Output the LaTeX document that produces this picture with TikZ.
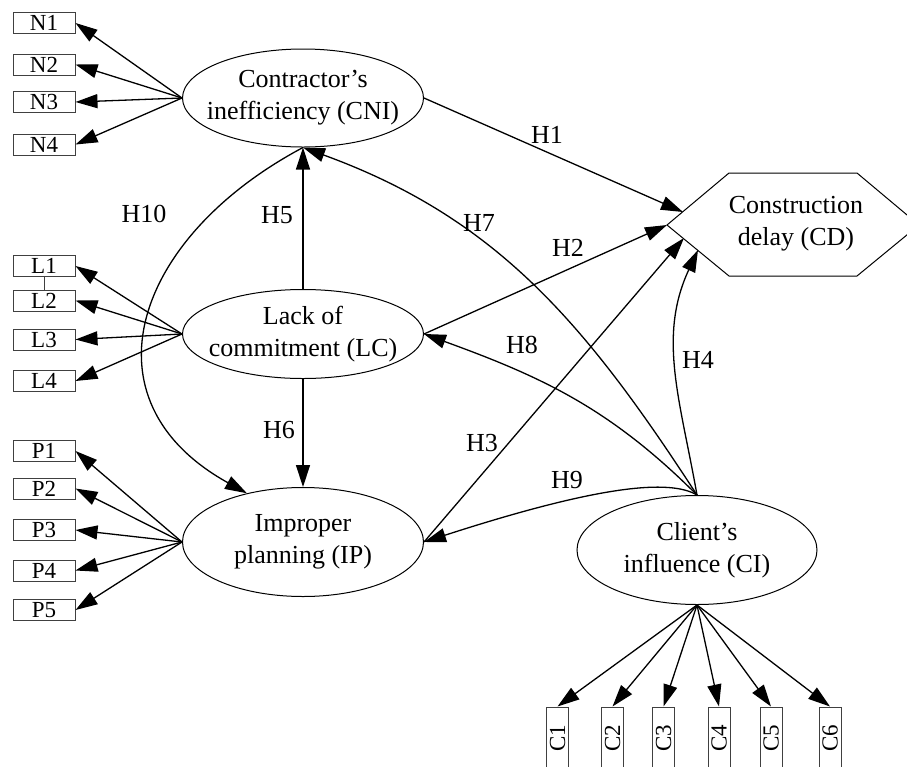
\documentclass[tikz,border=0pt]{standalone}
\usepackage{fontspec}
\setmainfont{Liberation Serif}
\usepackage{tikz}
\usetikzlibrary{arrows.meta,positioning,shapes.geometric}

\begin{document}
\begin{tikzpicture}[
  x=0.5pt, y=0.5pt,
  >={Triangle[length=11pt,width=7pt]},
  latent/.style={draw, ellipse, line width=0.5pt, align=center, inner xsep=-7pt, inner ysep=-3pt, font=\fontsize{13}{16}\selectfont, minimum width=120.5pt},
  ind/.style={draw=black!75, line width=0.5pt, minimum width=31pt, minimum height=10.5pt, inner sep=0pt, font=\fontsize{11.5}{13}\selectfont},
  hyp/.style={inner sep=1pt, font=\fontsize{13}{15}\selectfont},
  arrow/.style={->, line width=0.65pt}
]
\useasboundingbox (0,0) rectangle (907,-767);

% latent constructs
\node[latent, minimum height=49pt] (CNI) at (303,-98) {Contractor's\\inefficiency (CNI)};
\node[latent, minimum height=44.5pt] (LC) at (303,-334) {Lack of\\commitment (LC)};
\node[latent, minimum height=54.5pt] (IP) at (303,-542) {Improper\\planning (IP)};
\node[latent, minimum height=54.5pt, minimum width=120pt] (CI) at (697,-550) {Client's\\influence (CI)};

% construction delay
\coordinate (cdW) at (667,-225);
\coordinate (cdNW) at (729,-173);
\coordinate (cdNE) at (857,-173);
\coordinate (cdE) at (919,-225);
\coordinate (cdSE) at (857,-276);
\coordinate (cdSW) at (729,-276);
\draw[line width=0.5pt] (cdW) -- (cdNW) -- (cdNE) -- (cdE) -- (cdSE) -- (cdSW) -- cycle;
\node[align=center, font=\fontsize{13}{16}\selectfont] (CD) at (796,-224) {Construction\\delay (CD)};
\coordinate (cdH1) at (683,-212);
\coordinate (cdH3) at (684,-238);
\coordinate (cdH4) at (698,-250);

% indicators
\node[ind] (N1) at (44,-23) {N1};
\node[ind] (N2) at (44,-64.5) {N2};
\node[ind] (N3) at (44,-102) {N3};
\node[ind] (N4) at (44,-144.5) {N4};

\node[ind] (L1) at (44,-266) {L1};
\node[ind] (L2) at (44,-300.5) {L2};
\node[ind] (L3) at (44,-339.5) {L3};
\node[ind] (L4) at (44,-381) {L4};

\node[ind] (P1) at (44,-451) {P1};
\node[ind] (P2) at (44,-488.5) {P2};
\node[ind] (P3) at (44,-530) {P3};
\node[ind] (P4) at (44,-570.5) {P4};
\node[ind] (P5) at (44,-610) {P5};

\node[ind, rotate=90, minimum height=11pt] (C1) at (557.5,-738) {C1};
\node[ind, rotate=90, minimum height=11pt] (C2) at (612.5,-738) {C2};
\node[ind, rotate=90, minimum height=11pt] (C3) at (663.5,-738) {C3};
\node[ind, rotate=90, minimum height=11pt] (C4) at (719,-738) {C4};
\node[ind, rotate=90, minimum height=11pt] (C5) at (771,-738) {C5};
\node[ind, rotate=90, minimum height=11pt] (C6) at (830,-738) {C6};

\draw[arrow] (CNI.west) -- (N1.east);
\draw[arrow] (CNI.west) -- (N2.east);
\draw[arrow] (CNI.west) -- (N3.east);
\draw[arrow] (CNI.west) -- (N4.east);

\draw[line width=0.5pt, black!75] (L1.south) -- (L2.north);
\draw[arrow] (LC.west) -- (L1.east);
\draw[arrow] (LC.west) -- (L2.east);
\draw[arrow] (LC.west) -- (L3.east);
\draw[arrow] (LC.west) -- (L4.east);

\draw[arrow] (IP.west) -- (P1.east);
\draw[arrow] (IP.west) -- (P2.east);
\draw[arrow] (IP.west) -- (P3.east);
\draw[arrow] (IP.west) -- (P4.east);
\draw[arrow] (IP.west) -- (P5.east);

\draw[arrow] (CI.south) -- (C1.east);
\draw[arrow] (CI.south) -- (C2.east);
\draw[arrow] (CI.south) -- (C3.east);
\draw[arrow] (CI.south) -- (C4.east);
\draw[arrow] (CI.south) -- (C5.east);
\draw[arrow] (CI.south) -- (C6.east);

% hypotheses
\draw[arrow] (CNI.east) -- (cdH1);
\draw[arrow] (LC.east) -- (cdW);
\draw[arrow] (IP.east) -- (cdH3);
\draw[arrow] (CI.north) to[out=100, in=-115] (cdH4);
\draw[arrow] (LC.north) -- (CNI.south);
\draw[arrow] (LC.south) -- (IP.north);
\draw[arrow] (CI.north) to[out=123, in=-20] (CNI.south);
\draw[arrow] (CI.north) to[out=135, in=-20] (LC.east);
\draw[arrow] (CI.north) .. controls +(-27,16) and +(176,57) .. (IP.east);
\draw[arrow] (CNI.south) to[out=208, in=151, looseness=1.4] (IP.139);

\node[hyp] (h1) at (547,-135) {H1};
\node[hyp] (h2) at (568,-248) {H2};
\node[hyp] (h3) at (482,-443) {H3};
\node[hyp] (h4) at (698,-360) {H4};
\node[hyp] (h5) at (277,-215) {H5};
\node[hyp] (h6) at (279,-430) {H6};
\node[hyp] (h7) at (479,-223) {H7};
\node[hyp] (h8) at (522,-345) {H8};
\node[hyp] (h9) at (567,-480) {H9};
\node[hyp] (h10) at (144,-214) {H10};
\end{tikzpicture}
\end{document}
